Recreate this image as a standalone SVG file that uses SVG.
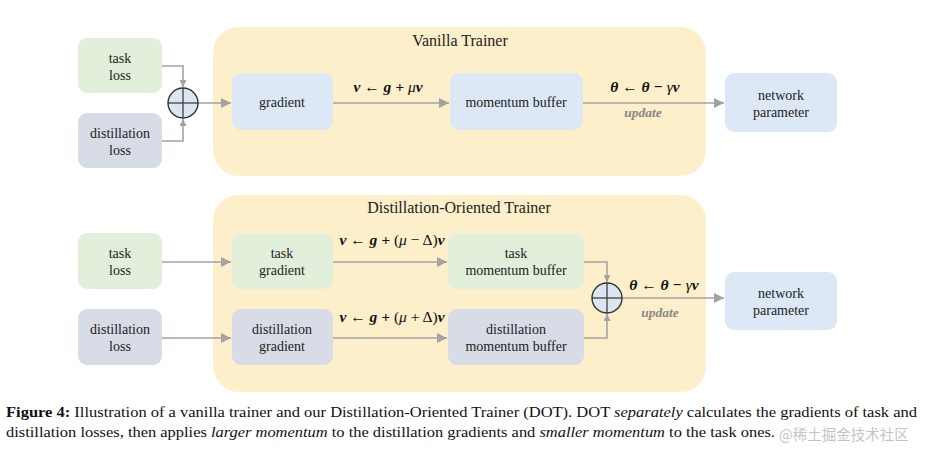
<svg xmlns="http://www.w3.org/2000/svg" width="940" height="454" viewBox="0 0 940 454">
<defs>
<marker id="ah" viewBox="0 0 10 10" refX="10" refY="5" markerWidth="10" markerHeight="10" markerUnits="userSpaceOnUse" orient="auto">
<path d="M0,0 L10,5 L0,10 z" fill="#a3a3a3"/>
</marker>
<marker id="ahs" viewBox="0 0 10 10" refX="10" refY="5" markerWidth="7" markerHeight="7" markerUnits="userSpaceOnUse" orient="auto">
<path d="M0,0 L10,5 L0,10 z" fill="#a3a3a3"/>
</marker>
</defs>
<style>
.cont{fill:#fcefc9}
.green{fill:#e2efda}
.gray{fill:#d8dce6}
.blue{fill:#dce8f5}
.t{font-family:"Liberation Serif","Times New Roman",serif;font-size:14px;fill:#222;text-anchor:middle}
.title{font-family:"Liberation Serif","Times New Roman",serif;font-size:16px;fill:#222;text-anchor:middle}
.f{font-family:"Liberation Serif","Times New Roman",serif;font-size:15.5px;fill:#111;text-anchor:middle;font-weight:bold;font-style:italic}
.up{font-family:"Liberation Serif","Times New Roman",serif;font-size:13.5px;fill:#888;text-anchor:middle;font-weight:bold;font-style:italic}
.ln{fill:none;stroke:#a3a3a3;stroke-width:1.6}
.circ{fill:#dce6f2;stroke:#333;stroke-width:1.4}
.cross{stroke:#333;stroke-width:1.2}
.cap{font-family:"Liberation Serif","Times New Roman",serif;font-size:15px;fill:#111}
</style>
<rect width="940" height="454" fill="#ffffff"/>

<g id="vanilla-trainer">
<rect class="cont" x="213" y="27" width="493" height="149" rx="26"/>
<text class="title" x="460" y="46">Vanilla Trainer</text>
</g>
<g id="dot-trainer">
<rect class="cont" x="213" y="195" width="493" height="197" rx="26"/>
<text class="title" x="459" y="213">Distillation-Oriented Trainer</text>
</g>

<g id="connectors">
<path class="ln" d="M162,66 H183 V87" marker-end="url(#ahs)"/>
<path class="ln" d="M162,141 H183 V119" marker-end="url(#ahs)"/>
<path class="ln" d="M198,103 H231" marker-end="url(#ah)"/>
<path class="ln" d="M333,103 H449" marker-end="url(#ah)"/>
<path class="ln" d="M583,103 H724" marker-end="url(#ah)"/>
<path class="ln" d="M162,262 H231" marker-end="url(#ah)"/>
<path class="ln" d="M162,338 H231" marker-end="url(#ah)"/>
<path class="ln" d="M333,262 H447" marker-end="url(#ah)"/>
<path class="ln" d="M333,338 H447" marker-end="url(#ah)"/>
<path class="ln" d="M584,262 H607 V282" marker-end="url(#ahs)"/>
<path class="ln" d="M584,338 H607 V314" marker-end="url(#ahs)"/>
<path class="ln" d="M622,298 H724" marker-end="url(#ah)"/>
</g>

<g id="labels">
<text class="f" x="388" y="92">ν ← g + <tspan font-weight="normal">μ</tspan>ν</text>
<text class="f" x="645" y="92">θ ← θ − <tspan font-weight="normal">γ</tspan>ν</text>
<text class="up" x="643" y="117">update</text>
<text class="f" x="392" y="245">ν ← g + <tspan font-weight="normal" font-style="normal">(</tspan><tspan font-weight="normal">μ</tspan><tspan font-weight="normal" font-style="normal"> − Δ)</tspan>ν</text>
<text class="f" x="392" y="322">ν ← g + <tspan font-weight="normal" font-style="normal">(</tspan><tspan font-weight="normal">μ</tspan><tspan font-weight="normal" font-style="normal"> + Δ)</tspan>ν</text>
<text class="f" x="664" y="290">θ ← θ − <tspan font-weight="normal">γ</tspan>ν</text>
<text class="up" x="660" y="317">update</text>
</g>

<g id="v-task-loss">
<rect class="green" x="78" y="38" width="84" height="55" rx="9"/>
<text class="t" x="120" y="63">task</text>
<text class="t" x="120" y="80">loss</text>
</g>
<g id="v-distill-loss">
<rect class="gray" x="78" y="113" width="84" height="55" rx="9"/>
<text class="t" x="120" y="138">distillation</text>
<text class="t" x="120" y="155">loss</text>
</g>
<g id="v-sum">
<circle class="circ" cx="183" cy="103" r="15"/>
<line class="cross" x1="168" y1="103" x2="198" y2="103"/>
<line class="cross" x1="183" y1="88" x2="183" y2="118"/>
</g>
<g id="v-gradient">
<rect class="blue" x="232" y="73" width="101" height="57" rx="9"/>
<text class="t" x="282" y="107">gradient</text>
</g>
<g id="v-momentum">
<rect class="blue" x="450" y="73" width="133" height="57" rx="9"/>
<text class="t" x="516" y="107">momentum buffer</text>
</g>
<g id="v-network">
<rect class="blue" x="725" y="73" width="112" height="59" rx="9"/>
<text class="t" x="781" y="100">network</text>
<text class="t" x="781" y="117">parameter</text>
</g>

<g id="d-task-loss">
<rect class="green" x="78" y="233" width="84" height="56" rx="9"/>
<text class="t" x="120" y="258">task</text>
<text class="t" x="120" y="275">loss</text>
</g>
<g id="d-distill-loss">
<rect class="gray" x="78" y="309" width="84" height="56" rx="9"/>
<text class="t" x="120" y="334">distillation</text>
<text class="t" x="120" y="351">loss</text>
</g>
<g id="d-task-gradient">
<rect class="green" x="232" y="233" width="101" height="56" rx="9"/>
<text class="t" x="282" y="258">task</text>
<text class="t" x="282" y="275">gradient</text>
</g>
<g id="d-distill-gradient">
<rect class="gray" x="232" y="309" width="101" height="56" rx="9"/>
<text class="t" x="282" y="334">distillation</text>
<text class="t" x="282" y="351">gradient</text>
</g>
<g id="d-task-momentum">
<rect class="green" x="448" y="233" width="136" height="56" rx="9"/>
<text class="t" x="516" y="258">task</text>
<text class="t" x="516" y="275">momentum buffer</text>
</g>
<g id="d-distill-momentum">
<rect class="gray" x="448" y="309" width="136" height="56" rx="9"/>
<text class="t" x="516" y="334">distillation</text>
<text class="t" x="516" y="351">momentum buffer</text>
</g>
<g id="d-sum">
<circle class="circ" cx="607" cy="298" r="15"/>
<line class="cross" x1="592" y1="298" x2="622" y2="298"/>
<line class="cross" x1="607" y1="283" x2="607" y2="313"/>
</g>
<g id="d-network">
<rect class="blue" x="725" y="272" width="112" height="58" rx="9"/>
<text class="t" x="781" y="298">network</text>
<text class="t" x="781" y="315">parameter</text>
</g>

<g id="caption">
<text class="cap" x="6" y="417" textLength="911" lengthAdjust="spacingAndGlyphs"><tspan font-weight="bold">Figure 4:</tspan> Illustration of a vanilla trainer and our Distillation-Oriented Trainer (DOT). DOT <tspan font-style="italic">separately</tspan> calculates the gradients of task and</text>
<text class="cap" x="6" y="437" textLength="769" lengthAdjust="spacingAndGlyphs">distillation losses, then applies <tspan font-style="italic">larger momentum</tspan> to the distillation gradients and <tspan font-style="italic">smaller momentum</tspan> to the task ones.</text>
<text x="779" y="440" font-family="'Noto Sans CJK SC','Liberation Sans',sans-serif" font-size="14.5" fill="#b8b8b8" fill-opacity="0.85">@稀土掘金技术社区</text>
</g>
</svg>
